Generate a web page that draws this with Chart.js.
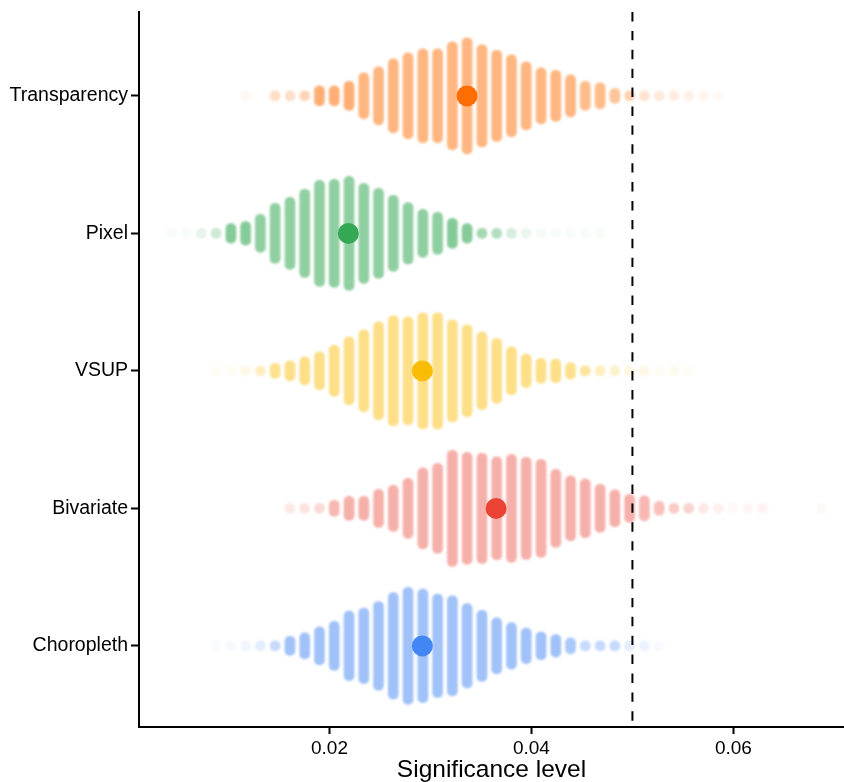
<!DOCTYPE html>
<html>
<head>
<meta charset="utf-8">
<script src="https://cdn.jsdelivr.net/npm/chart.js@4/dist/chart.umd.min.js"></script>
<style>
  html, body { margin: 0; padding: 0; background: #fff; }
  canvas { display: block; }
</style>
</head>
<body>
<canvas id="chart" width="844" height="782"></canvas>
<script>
// rows, top to bottom
const categories = ["Transparency", "Pixel", "VSUP", "Bivariate", "Choropleth"];
const rowPos = [5, 4, 3, 2, 1];
const colours = ["#FF6D01", "#34A853", "#FBBC05", "#EA4335", "#4285F4"];
const means = [0.03362, 0.02187, 0.02920, 0.03650, 0.02920];
const threshold = 0.05;
const xTicks = [0.02, 0.04, 0.06];

// centres of the histogram bins shared by every row
const binCenters = [
  0.00439, 0.00585, 0.00731, 0.00877, 0.01024, 0.01170, 0.01316, 0.01462, 0.01609, 0.01755,
  0.01901, 0.02047, 0.02194, 0.02340, 0.02486, 0.02632, 0.02778, 0.02925, 0.03071, 0.03217,
  0.03363, 0.03510, 0.03656, 0.03802, 0.03948, 0.04095, 0.04241, 0.04387, 0.04533, 0.04680,
  0.04826, 0.04972, 0.05118, 0.05265, 0.05411, 0.05557, 0.05703, 0.05850, 0.05996, 0.06142,
  0.06288, 0.06434, 0.06581, 0.06727, 0.06873
];

// half height of each bar (row units) and its opacity, null = empty bin
const transparencyHalf = [
  null, null, null, null, null, 0.036, null, 0.036, 0.036, 0.036,
  0.073, 0.073, 0.106, 0.168, 0.211, 0.270, 0.313, 0.342, 0.342, 0.393,
  0.423, 0.372, 0.332, 0.299, 0.248, 0.204, 0.186, 0.153, 0.106, 0.095,
  0.055, 0.036, 0.036, 0.036, 0.036, 0.036, 0.036, 0.036, null, null,
  null, null, null, null, null
];
const transparencyAlpha = [
  0, 0, 0, 0, 0, 0.05, 0, 0.22, 0.22, 0.28,
  0.55, 0.55, 0.55, 0.5, 0.5, 0.5, 0.5, 0.5, 0.5, 0.5,
  0.5, 0.5, 0.5, 0.5, 0.5, 0.5, 0.5, 0.5, 0.45, 0.45,
  0.4, 0.3, 0.18, 0.15, 0.12, 0.1, 0.08, 0.04, 0, 0,
  0, 0, 0, 0, 0
];

const pixelHalf = [
  0.036, 0.036, 0.036, 0.036, 0.071, 0.085, 0.138, 0.219, 0.262, 0.321,
  0.386, 0.393, 0.415, 0.364, 0.328, 0.277, 0.224, 0.175, 0.153, 0.109,
  0.071, 0.036, 0.036, 0.036, 0.036, 0.036, 0.036, 0.036, 0.036, 0.036,
  null, null, null, null, null, null, null, null, null, null,
  null, null, null, null, null
];
const pixelAlpha = [
  0.04, 0.04, 0.12, 0.25, 0.6, 0.6, 0.55, 0.55, 0.55, 0.55,
  0.55, 0.55, 0.55, 0.55, 0.55, 0.55, 0.55, 0.55, 0.55, 0.6,
  0.6, 0.45, 0.38, 0.2, 0.1, 0.05, 0.04, 0.04, 0.04, 0.04,
  0, 0, 0, 0, 0, 0, 0, 0, 0, 0,
  0, 0, 0, 0, 0
];

const vsupHalf = [
  null, null, null, 0.036, 0.036, 0.036, 0.036, 0.055, 0.073, 0.102,
  0.138, 0.186, 0.248, 0.299, 0.357, 0.401, 0.393, 0.423, 0.423, 0.372,
  0.335, 0.284, 0.237, 0.175, 0.122, 0.091, 0.085, 0.060, 0.036, 0.036,
  0.036, 0.036, 0.036, 0.036, 0.036, 0.036, null, null, null, null,
  null, null, null, null, null
];
const vsupAlpha = [
  0, 0, 0, 0.04, 0.05, 0.1, 0.25, 0.45, 0.48, 0.48,
  0.48, 0.48, 0.48, 0.48, 0.48, 0.48, 0.48, 0.48, 0.48, 0.48,
  0.48, 0.48, 0.48, 0.48, 0.48, 0.48, 0.48, 0.45, 0.4, 0.25,
  0.2, 0.12, 0.1, 0.04, 0.08, 0.04, 0, 0, 0, 0,
  0, 0, 0, 0, 0
];

const bivariateHalf = [
  null, null, null, null, null, null, null, null, 0.036, 0.036,
  0.036, 0.058, 0.087, 0.087, 0.138, 0.168, 0.219, 0.295, 0.328, 0.423,
  0.408, 0.401, 0.375, 0.393, 0.372, 0.357, 0.284, 0.237, 0.215, 0.175,
  0.135, 0.102, 0.091, 0.051, 0.036, 0.036, 0.036, 0.036, 0.036, 0.036,
  0.036, null, null, null, 0.036
];
const bivariateAlpha = [
  0, 0, 0, 0, 0, 0, 0, 0, 0.12, 0.15,
  0.2, 0.38, 0.42, 0.42, 0.42, 0.42, 0.42, 0.42, 0.42, 0.42,
  0.42, 0.42, 0.42, 0.42, 0.42, 0.42, 0.42, 0.42, 0.42, 0.42,
  0.42, 0.42, 0.38, 0.33, 0.28, 0.23, 0.12, 0.08, 0.04, 0.06,
  0.07, 0, 0, 0, 0.04
];

const choroplethHalf = [
  null, null, null, 0.036, 0.036, 0.036, 0.036, 0.036, 0.069, 0.095,
  0.138, 0.179, 0.253, 0.275, 0.323, 0.388, 0.425, 0.413, 0.377, 0.364,
  0.308, 0.259, 0.204, 0.170, 0.129, 0.101, 0.082, 0.058, 0.036, 0.036,
  0.036, 0.036, 0.036, 0.036, null, null, null, null, null, null,
  null, null, null, null, null
];
const choroplethAlpha = [
  0, 0, 0, 0.04, 0.05, 0.08, 0.15, 0.3, 0.5, 0.5,
  0.5, 0.5, 0.5, 0.5, 0.5, 0.5, 0.5, 0.5, 0.5, 0.5,
  0.5, 0.5, 0.5, 0.5, 0.5, 0.5, 0.5, 0.45, 0.3, 0.3,
  0.3, 0.15, 0.1, 0.04, 0, 0, 0, 0, 0, 0,
  0, 0, 0, 0, 0
];

const halves = [transparencyHalf, pixelHalf, vsupHalf, bivariateHalf, choroplethHalf];
const alphas = [transparencyAlpha, pixelAlpha, vsupAlpha, bivariateAlpha, choroplethAlpha];

const Y_MIN = 0.41, Y_MAX = 5.61;

function rgba(hex, a) {
  const n = parseInt(hex.slice(1), 16);
  return `rgba(${(n >> 16) & 255}, ${(n >> 8) & 255}, ${n & 255}, ${a})`;
}

const datasets = [];

categories.forEach((name, i) => {
  const pts = [];
  const cols = [];
  binCenters.forEach((x, k) => {
    const h = halves[i][k];
    if (h == null) return;
    pts.push({ x: x, y: [rowPos[i] - h, rowPos[i] + h] });
    cols.push(rgba(colours[i], alphas[i][k]));
  });
  datasets.push({
    type: "bar",
    label: name,
    data: pts,
    backgroundColor: cols,
    borderWidth: 0,
    borderRadius: 5,
    borderSkipped: false,
    barThickness: 10,
    grouped: false,
    order: 3
  });
});

// 0.05 reference line
datasets.push({
  type: "line",
  label: "threshold",
  data: [{ x: threshold, y: Y_MAX }, { x: threshold, y: Y_MIN }],
  borderColor: "#000",
  borderWidth: 2,
  borderDash: [9.4, 9.5],
  pointRadius: 0,
  fill: false,
  order: 2
});

// mean of each row
categories.forEach((name, i) => {
  datasets.push({
    type: "scatter",
    label: name + " mean",
    data: [{ x: means[i], y: rowPos[i] }],
    backgroundColor: colours[i],
    borderWidth: 0,
    pointRadius: 10.5,
    order: 1
  });
});

// soft edges on the bars only
const softBars = {
  id: "softBars",
  beforeDatasetDraw(chart, args) {
    if (args.meta.type === "bar") {
      chart.ctx.save();
      chart.ctx.filter = "blur(0.9px)";
    }
  },
  afterDatasetDraw(chart, args) {
    if (args.meta.type === "bar") chart.ctx.restore();
  }
};

Chart.defaults.font.family = '"Liberation Sans", Arial, sans-serif';
Chart.defaults.color = "#000";

const ctx = document.getElementById("chart").getContext("2d");
new Chart(ctx, {
  type: "bar",
  data: { datasets: datasets },
  plugins: [softBars],
  options: {
    responsive: false,
    animation: false,
    devicePixelRatio: 1,
    layout: {
      autoPadding: false,
      padding: { top: 12, right: 0, left: 0, bottom: 0 }
    },
    plugins: {
      legend: { display: false },
      tooltip: { enabled: false }
    },
    scales: {
      x: {
        type: "linear",
        offset: false,
        min: 0.00114,
        max: 0.07095,
        afterBuildTicks: scale => { scale.ticks = xTicks.map(v => ({ value: v })); },
        afterFit: scale => {
          scale.height = 55;
          scale.paddingLeft = 0;
          scale.paddingRight = 0;
        },
        ticks: {
          callback: v => v.toFixed(2),
          font: { size: 19 },
          padding: 3,
          maxRotation: 0
        },
        grid: {
          display: true,
          offset: false,
          drawOnChartArea: false,
          drawTicks: true,
          tickLength: 7,
          tickWidth: 2,
          tickColor: "#000"
        },
        border: { display: true, color: "#000", width: 2 },
        title: {
          display: true,
          text: "Significance level",
          font: { size: 24.5, lineHeight: 1 },
          padding: 0
        }
      },
      y: {
        type: "linear",
        min: Y_MIN,
        max: Y_MAX,
        afterBuildTicks: scale => { scale.ticks = rowPos.map(v => ({ value: v })); },
        afterFit: scale => {
          scale.width = 139;
          scale.paddingTop = 0;
          scale.paddingBottom = 0;
        },
        ticks: {
          callback: v => categories[rowPos.indexOf(v)],
          font: { size: 19.5 },
          padding: 3
        },
        grid: {
          display: true,
          offset: false,
          drawOnChartArea: false,
          drawTicks: true,
          tickLength: 8,
          tickWidth: 2,
          tickColor: "#000"
        },
        border: { display: true, color: "#000", width: 2 }
      }
    }
  }
});
</script>
</body>
</html>
